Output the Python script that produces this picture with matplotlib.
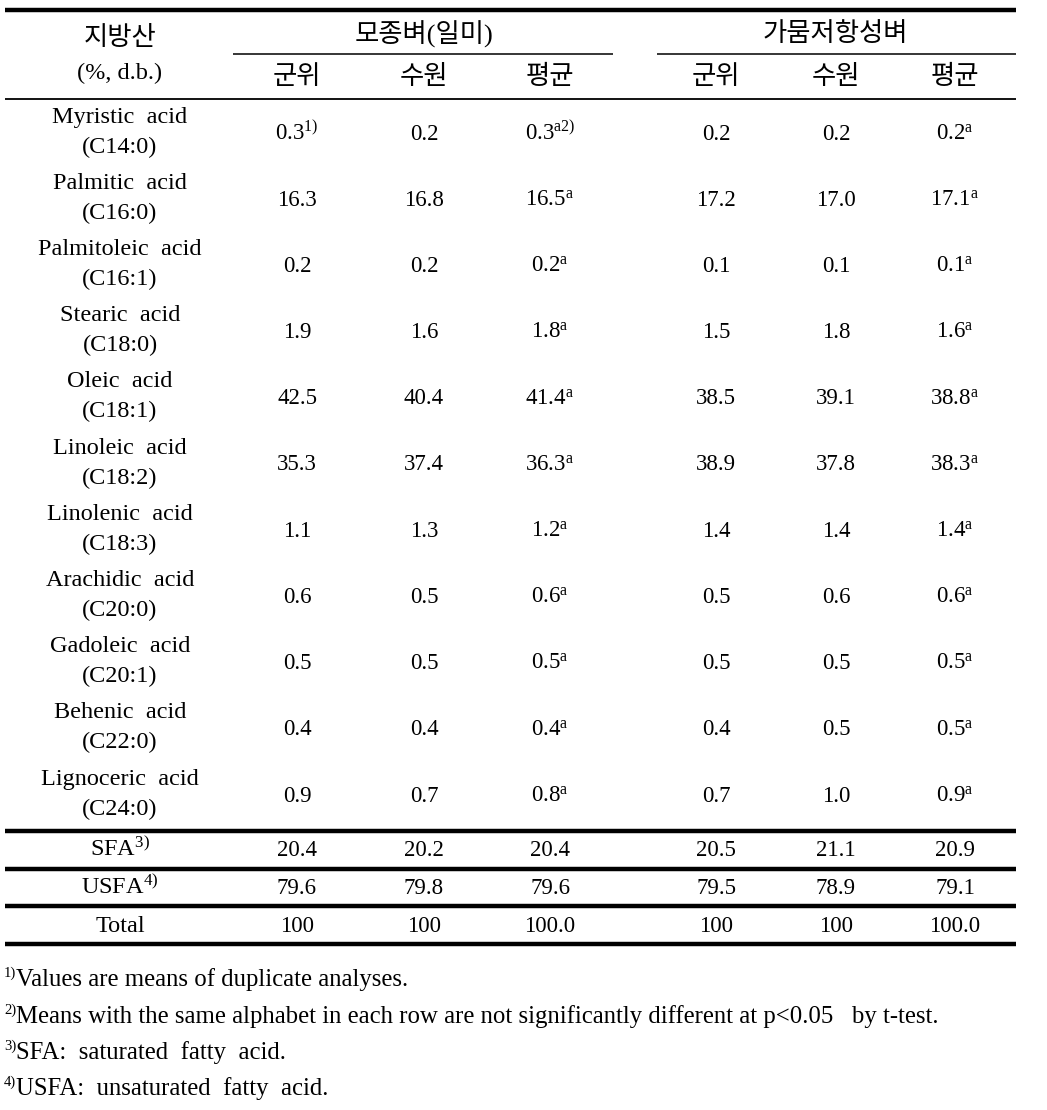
import matplotlib
matplotlib.use("Agg")
import matplotlib.pyplot as plt

plt.rcParams['font.family'] = ['Liberation Serif', 'Noto Sans CJK KR', 'DejaVu Sans']
plt.rcParams['mathtext.fontset'] = 'custom'
plt.rcParams['mathtext.rm'] = 'Liberation Serif'
plt.rcParams['mathtext.it'] = 'Liberation Serif'
plt.rcParams['mathtext.default'] = 'rm'

W, H = 1047, 1110

group_labels = ["모종벼(일미)", "가뭄저항성벼"]
sub_labels = ["군위", "수원", "평균"]
header_left = ["지방산", "(%, d.b.)"]

acid_names = ["Myristic  acid", "Palmitic  acid", "Palmitoleic  acid", "Stearic  acid",
              "Oleic  acid", "Linoleic  acid", "Linolenic  acid", "Arachidic  acid",
              "Gadoleic  acid", "Behenic  acid", "Lignoceric  acid"]
acid_codes = ["(C14:0)", "(C16:0)", "(C16:1)", "(C18:0)", "(C18:1)", "(C18:2)",
              "(C18:3)", "(C20:0)", "(C20:1)", "(C22:0)", "(C24:0)"]

ilmi_gunwi = ["0.3", "16.3", "0.2", "1.9", "42.5", "35.3", "1.1", "0.6", "0.5", "0.4", "0.9"]
ilmi_suwon = ["0.2", "16.8", "0.2", "1.6", "40.4", "37.4", "1.3", "0.5", "0.5", "0.4", "0.7"]
ilmi_mean = ["0.3", "16.5", "0.2", "1.8", "41.4", "36.3", "1.2", "0.6", "0.5", "0.4", "0.8"]
drought_gunwi = ["0.2", "17.2", "0.1", "1.5", "38.5", "38.9", "1.4", "0.5", "0.5", "0.4", "0.7"]
drought_suwon = ["0.2", "17.0", "0.1", "1.8", "39.1", "37.8", "1.4", "0.6", "0.5", "0.5", "1.0"]
drought_mean = ["0.2", "17.1", "0.1", "1.6", "38.8", "38.3", "1.4", "0.6", "0.5", "0.5", "0.9"]
mean_letters = ["a"] * 11

summary_labels = ["SFA", "USFA", "Total"]
summary_sups = ["3)", "4)", ""]
summary_values = [
    ["20.4", "20.2", "20.4", "20.5", "21.1", "20.9"],
    ["79.6", "79.8", "79.6", "79.5", "78.9", "79.1"],
    ["100", "100", "100.0", "100", "100", "100.0"],
]

footnotes = [
    ("1)", "Values are means of duplicate analyses."),
    ("2)", "Means with the same alphabet in each row are not significantly different at p<0.05   by t-test."),
    ("3)", "SFA:  saturated  fatty  acid."),
    ("4)", "USFA:  unsaturated  fatty  acid."),
]

FS_NUM = 16.5
FS_TXT = 17.5
FS_FN = 17.8
FS_KR = 19
SUP = 10.5
BASE = 7.5  # baseline offset below visual centre

fig = plt.figure(figsize=(W / 100, H / 100), dpi=100)
ax = fig.add_axes([0, 0, 1, 1])
ax.set_xlim(0, W)
ax.set_ylim(H, 0)
ax.axis('off')

col_x = [297, 424, 550, 716, 836, 955]
label_x = 120
x_left, x_right = 5, 1016


def hline(y, x0=x_left, x1=x_right, lw=1.0):
    ax.plot([x0, x1], [y, y], color='black', lw=lw, solid_capstyle='butt')


def value_text(x, y, main, sup=None, fs=FS_NUM):
    s = main
    if sup:
        s = main + r"$^{\mathregular{" + sup + r"}}$"
    ax.text(x, y + BASE, s, fontsize=fs, ha='center', va='baseline')


# header
hline(10, lw=3.2)
ax.text(label_x, 38, header_left[0], fontsize=FS_KR, ha='center', va='center')
ax.text(label_x, 73, header_left[1], fontsize=FS_TXT, ha='center', va='center')
group_centers = [424, 835]
group_spans = [(233, 613), (657, x_right)]
for g, c, (a, b) in zip(group_labels, group_centers, group_spans):
    ax.text(c, 34, g, fontsize=FS_KR, ha='center', va='center')
    hline(54, a, b, lw=1.1)
for i, x in enumerate(col_x):
    ax.text(x, 77, sub_labels[i % 3], fontsize=FS_KR, ha='center', va='center')
hline(99, lw=1.3)

# body rows
row_top, row_step = 132, 66.2
cols = [ilmi_gunwi, ilmi_suwon, ilmi_mean, drought_gunwi, drought_suwon, drought_mean]
for i in range(len(acid_names)):
    yc = row_top + i * row_step
    ax.text(label_x, yc - 15, acid_names[i], fontsize=FS_TXT, ha='center', va='center')
    ax.text(label_x, yc + 15, acid_codes[i], fontsize=FS_TXT, ha='center', va='center')
    for j, col in enumerate(cols):
        sup = None
        if j in (2, 5):
            sup = mean_letters[i]
            if i == 0 and j == 2:
                sup = mean_letters[i] + "2)"
        if i == 0 and j == 0:
            sup = "1)"
        value_text(col_x[j], yc, col[i], sup)

# summary rows
sum_y = [849, 887, 925]
line_y = [831, 869, 906, 944]
for y in line_y:
    hline(y, lw=3.2)
for k, lab in enumerate(summary_labels):
    value_text(label_x, sum_y[k], lab, summary_sups[k] or None, fs=FS_TXT)
    for j in range(6):
        value_text(col_x[j], sum_y[k], summary_values[k][j])

# footnotes
fn_y = [980, 1017, 1053, 1089]
for (s, txt), y in zip(footnotes, fn_y):
    ax.text(x_left - 1, y - 7, s, fontsize=SUP, ha='left', va='center')
    ax.text(x_left + 11, y, txt, fontsize=FS_FN, ha='left', va='center')

fig.savefig('out.png', dpi=100, facecolor='white')
